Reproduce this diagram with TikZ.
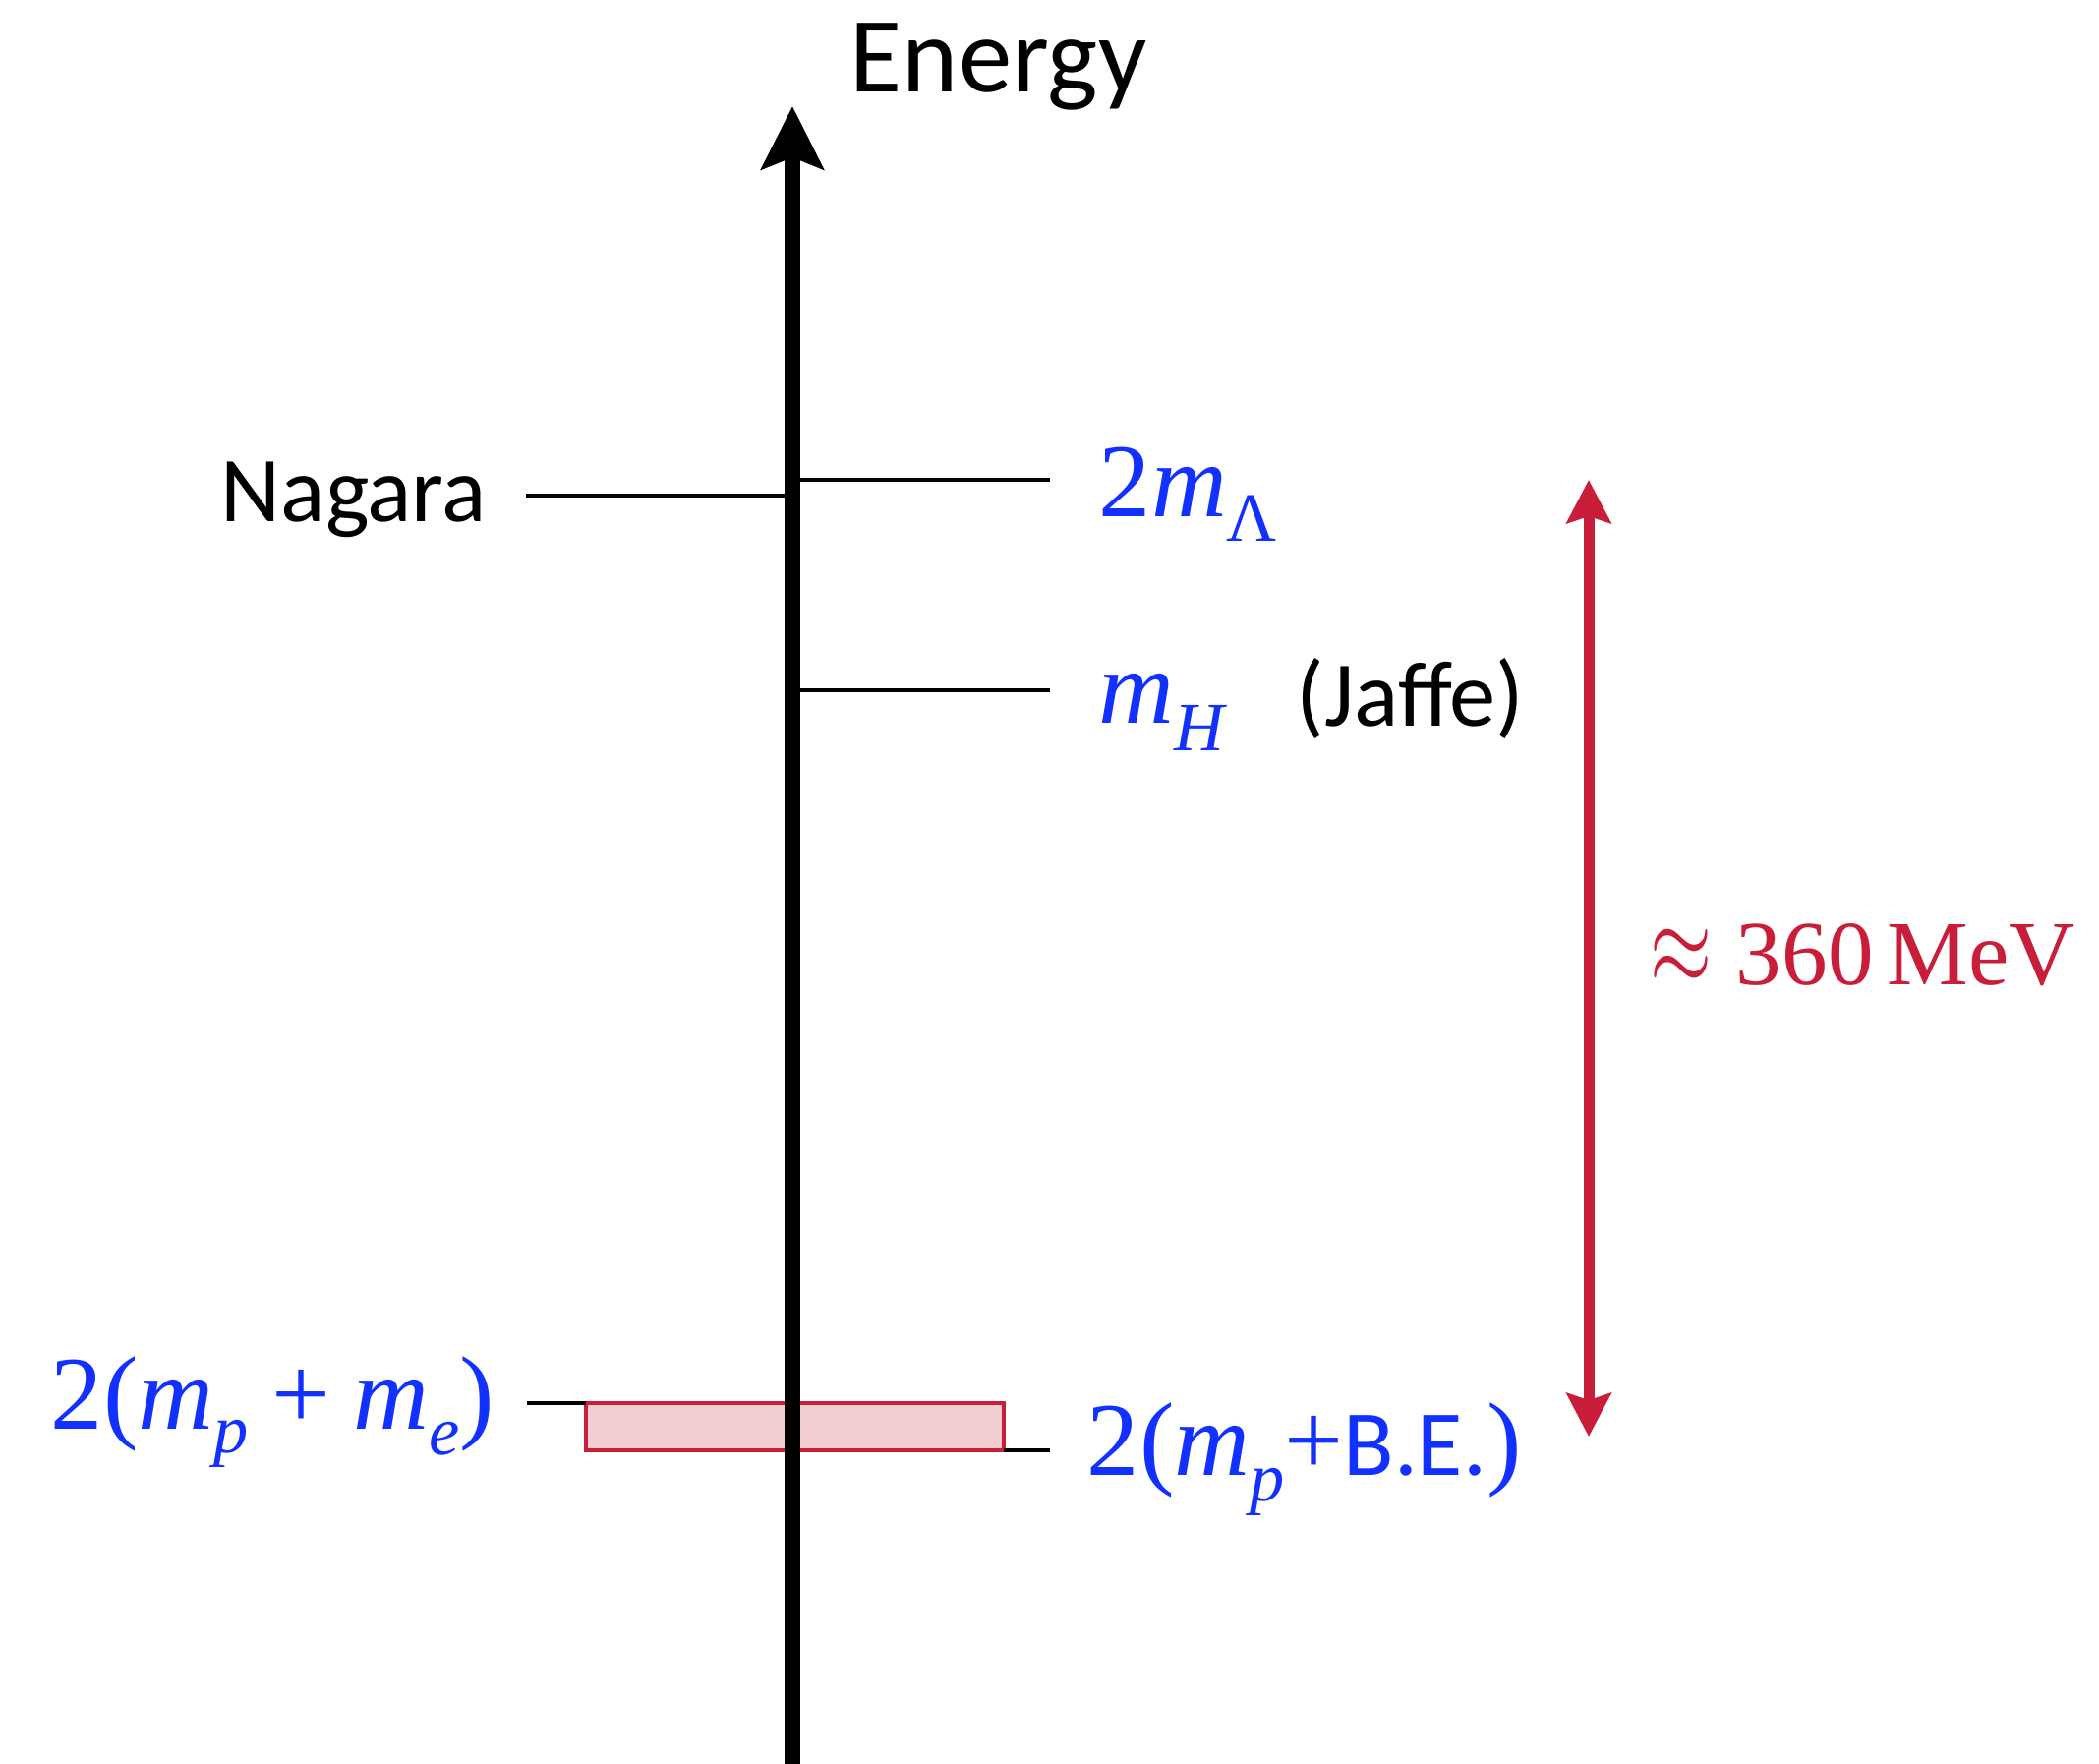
\RequirePackage{fix-cm}
\documentclass[tikz,border=0pt]{standalone}
\usepackage[no-math]{fontspec}
\setmainfont{Liberation Serif}
\newfontfamily\calib{Carlito}
\usetikzlibrary{arrows.meta}
\definecolor{lblblue}{RGB}{18,48,255}
\definecolor{crim}{RGB}{200,30,58}
\definecolor{boxfill}{RGB}{242,206,211}
\newcommand\sbs[2]{\raisebox{-#1}{\fontsize{17.6}{19}\selectfont #2}}
\begin{document}
\begin{tikzpicture}[x=0.25pt,y=-0.25pt,
  lvl/.style={line width=1.2pt, black},
  sanslbl/.style={font=\calib\fontsize{23.6}{26}\selectfont, inner sep=0, anchor=base west},
  mlbl/.style={font=\rmfamily\fontsize{26.6}{30}\selectfont, text=lblblue, inner sep=0, anchor=base west},
  axhead/.style={-{Stealth[length=16pt,width=15.75pt,inset=3pt]}},
  redhead/.tip={Stealth[length=11pt,width=11.25pt,inset=1.75pt]}]
\useasboundingbox (0,0) rectangle (2135,1793);
% coordinates
\coordinate (axbot) at (806,1810);
\coordinate (axtop) at (806,108);
\coordinate (nagL) at (535,504);
\coordinate (nagR) at (806,504);
\coordinate (lamL) at (806,488);
\coordinate (lamR) at (1068,488);
\coordinate (mhL) at (806,702);
\coordinate (mhR) at (1068,702);
\coordinate (tickL) at (536,1427);
\coordinate (tickR) at (1068,1475);
\coordinate (rtop) at (1616,488);
\coordinate (rbot) at (1616,1461);
% levels
\draw[lvl] (nagL) -- (nagR);
\draw[lvl] (lamL) -- (lamR);
\draw[lvl] (mhL) -- (mhR);
% box
\node[draw=crim, line width=1.1pt, fill=boxfill, inner sep=0, outer sep=0, minimum width=106.25pt, minimum height=12pt] (box) at (808.5,1451) {};
\draw[lvl] (tickL) -- (box.north west);
\draw[lvl] (box.south east) -- (tickR);
% axis
\draw[line width=4pt, axhead] (axbot) -- (axtop);
% red arrow
\draw[crim, line width=2.75pt, redhead-redhead] (rbot) -- (rtop);
% labels
\node[sanslbl, font=\calib\fontsize{27.2}{30}\selectfont] (energy) at (864,93) {Energy};
\node[sanslbl] (nagara) at (224,530) {Nagara};
\node[mlbl] (lam) at (1117,525) {2\textit{m}\sbs{6.25pt}{Λ}};
\node[mlbl] (mh) at (1117,735) {\textit{m}\sbs{7pt}{\textit{H}}};
\node[sanslbl] (jaffe) at (1318,738) {(Jaffe)};
\node[mlbl] (mpme) at (51,1453) {2(\textit{m}\sbs{6pt}{\textit{p}}\hspace{5.9pt}+\hspace{5.9pt}\textit{m}\sbs{6.5pt}{\textit{e}})};
\node[mlbl] (mpbe) at (1105,1500) {2(\textit{m}\sbs{6.5pt}{\textit{p}}+{\calib\fontsize{23.7}{26}\selectfont B.E.})};
\node[font=\rmfamily\fontsize{23.3}{26}\selectfont, text=crim, inner sep=0, anchor=base west] (mev) at (1678,1001) {\scalebox{0.87}[1.25]{$\approx$}\hspace{6pt}360\hspace{3.5pt}MeV};
\end{tikzpicture}
\end{document}
